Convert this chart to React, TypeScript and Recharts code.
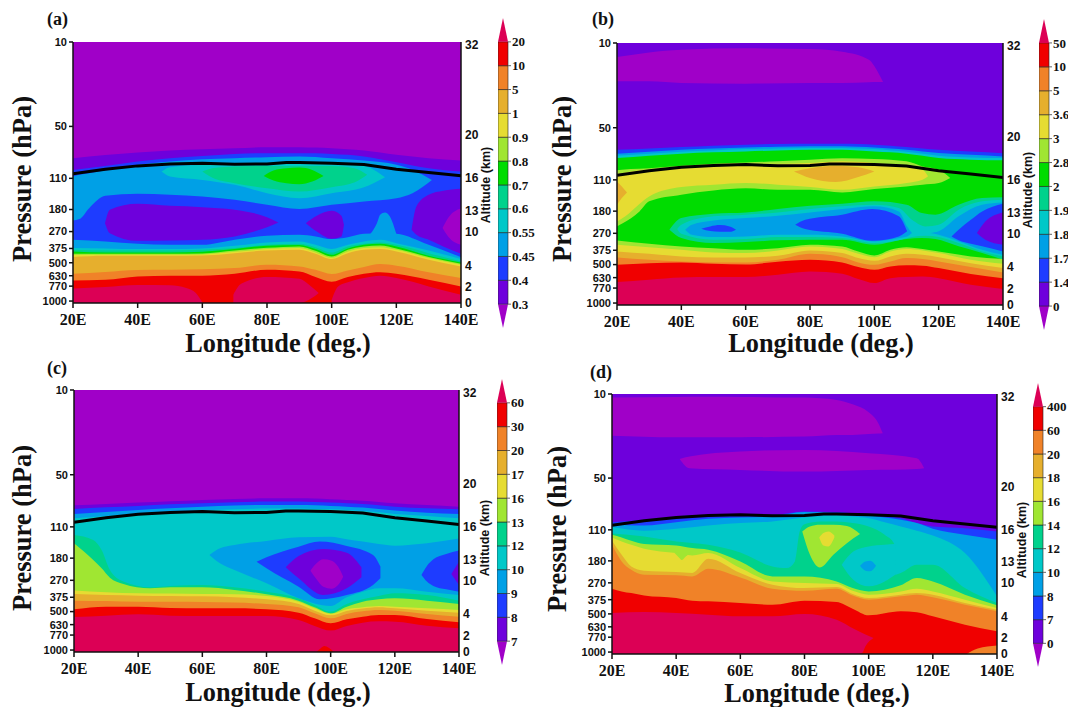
import { Area, Bar, BarChart, ComposedChart, Line, XAxis, YAxis } from 'recharts';

// vertical coordinate of the cross sections is log10(pressure in hPa)
const BOTTOM = 3.01;
const CRIMSON = '#dc0055';
const RED = '#f00000';
const ORANGE = '#f08228';
const GOLD = '#e6af2d';
const YELLOW = '#e6dc32';
const LIME = '#a0e632';
const GREEN = '#00dc00';
const TEAL = '#00d28c';
const CYAN = '#00c8c8';
const SKY = '#00a0e6';
const BLUE = '#1e3cff';
const VIOLET = '#6e00dc';
const PURPLE = '#a000c8';
const fullBar = [PURPLE, VIOLET, BLUE, SKY, CYAN, TEAL, GREEN, LIME, YELLOW, GOLD, ORANGE, RED, CRIMSON];
const shortBar = [PURPLE, VIOLET, BLUE, SKY, CYAN, TEAL, LIME, YELLOW, GOLD, ORANGE, RED, CRIMSON];

const pressureLabels = [10, 50, 110, 180, 270, 375, 500, 630, 770, 1000];
const pressureLevels = [1.0, 1.65, 2.05, 2.29, 2.46, 2.59, 2.7, 2.8, 2.88, 2.995];
const altitudeLabels = [32, 20, 16, 13, 10, 4, 2, 0];
const altitudeLevels = [1.023, 1.716, 2.047, 2.3, 2.46, 2.72, 2.885, 3.01];
const lonTicks = [20, 40, 60, 80, 100, 120, 140];

const tropoLons = [20, 30, 40, 50, 60, 70, 80, 86, 90, 100, 110, 120, 130, 140];
const tropopause = [2.015, 1.98, 1.954, 1.939, 1.933, 1.941, 1.939, 1.928, 1.928, 1.933, 1.944, 1.98, 2.005, 2.031];

const grid = [20, 30, 40, 50, 60, 70, 80, 90, 95, 100, 105, 110, 115, 120, 130, 140];

// panel (a)
const aViolet = [1.895, 1.87, 1.851, 1.836, 1.826, 1.818, 1.81, 1.81, 1.813, 1.818, 1.826, 1.836, 1.851, 1.869, 1.895, 1.913];
const aBlue = [1.985, 1.954, 1.92, 1.895, 1.877, 1.862, 1.856, 1.856, 1.856, 1.862, 1.869, 1.882, 1.903, 1.926, 1.972, 1.998];
const aSkyLons = [20, 22, 25, 30, 40, 50, 60, 70, 80, 90, 100, 110, 120, 125, 131];
const aSkyTop = [2.036, 2.023, 2.01, 1.99, 1.946, 1.92, 1.903, 1.895, 1.887, 1.882, 1.895, 1.913, 1.946, 1.985, 2.062];
const aSkyBot = [2.374, 2.364, 2.28, 2.185, 2.169, 2.177, 2.19, 2.215, 2.254, 2.287, 2.254, 2.228, 2.203, 2.164, 2.062];
const aCyanLons = [47.4, 50, 60, 70, 80, 90, 100, 110, 116.5];
const aCyanTop = [1.998, 1.964, 1.946, 1.939, 1.933, 1.933, 1.933, 1.954, 2.041];
const aCyanBot = [1.998, 2.036, 2.062, 2.1, 2.164, 2.203, 2.164, 2.118, 2.041];
const aTealLons = [60, 64, 70, 80, 90, 100, 107, 111];
const aTealTop = [1.998, 1.969, 1.959, 1.954, 1.954, 1.954, 1.972, 2.023];
const aTealBot = [1.998, 2.056, 2.087, 2.126, 2.151, 2.118, 2.082, 2.023];
const aGreenLons = [79, 82, 86, 90, 94, 97.5];
const aGreenTop = [2.031, 1.99, 1.972, 1.967, 1.985, 2.031];
const aGreenBot = [2.031, 2.067, 2.087, 2.095, 2.074, 2.031];
const aLow1Lons = [29.9, 31.4, 40, 50, 60, 70, 80, 83.5];
const aLow1Top = [2.395, 2.292, 2.246, 2.262, 2.272, 2.292, 2.349, 2.39];
const aLow1Bot = [2.395, 2.472, 2.531, 2.528, 2.523, 2.497, 2.426, 2.39];
const aLow2Lons = [92, 95.4, 100, 103, 103.8];
const aLow2Top = [2.395, 2.338, 2.3, 2.338, 2.408];
const aLow2Bot = [2.395, 2.459, 2.515, 2.498, 2.408];
const aLow3Lons = [124.7, 126.2, 130, 134.5, 140];
const aLow3Top = [2.446, 2.267, 2.177, 2.146, 2.131];
const aLow3Bot = [2.446, 2.485, 2.523, 2.574, 2.631];
const aMinLons = [134.3, 136, 140];
const aMinTop = [2.433, 2.356, 2.28];
const aMinBot = [2.433, 2.497, 2.562];
const aBumpLons = [112, 114, 115, 116.5, 118, 120];
const aBumpTop = [2.477, 2.395, 2.331, 2.313, 2.344, 2.477];
const aBumpBot = [2.52, 2.52, 2.52, 2.52, 2.52, 2.52];
const aSky2 = [2.523, 2.536, 2.554, 2.562, 2.562, 2.523, 2.492, 2.485, 2.497, 2.518, 2.503, 2.477, 2.472, 2.477, 2.562, 2.657];
const aCyan2 = [2.587, 2.59, 2.595, 2.595, 2.59, 2.569, 2.544, 2.536, 2.562, 2.595, 2.562, 2.536, 2.523, 2.549, 2.605, 2.672];
const aTeal2 = [2.6, 2.605, 2.605, 2.605, 2.6, 2.587, 2.562, 2.554, 2.58, 2.621, 2.574, 2.554, 2.544, 2.562, 2.626, 2.69];
const aGreen2 = [2.613, 2.621, 2.621, 2.621, 2.615, 2.595, 2.569, 2.564, 2.595, 2.639, 2.59, 2.562, 2.554, 2.574, 2.646, 2.698];
const aLime = [2.631, 2.631, 2.631, 2.631, 2.628, 2.605, 2.585, 2.574, 2.608, 2.651, 2.6, 2.574, 2.567, 2.59, 2.656, 2.708];
const aYellow = [2.641, 2.639, 2.639, 2.639, 2.636, 2.615, 2.595, 2.587, 2.621, 2.662, 2.613, 2.587, 2.58, 2.6, 2.664, 2.715];
const aGold = [2.656, 2.646, 2.646, 2.646, 2.644, 2.626, 2.605, 2.6, 2.631, 2.672, 2.626, 2.6, 2.595, 2.613, 2.677, 2.728];
const aOrange = [2.785, 2.772, 2.756, 2.754, 2.751, 2.741, 2.715, 2.728, 2.754, 2.787, 2.759, 2.733, 2.71, 2.723, 2.774, 2.818];
const aRed = [2.836, 2.831, 2.805, 2.8, 2.8, 2.785, 2.754, 2.767, 2.81, 2.846, 2.81, 2.785, 2.774, 2.785, 2.831, 2.882];
const aHigh1Lons = [20, 30, 40, 50, 55, 58, 60];
const aHigh1Top = [2.898, 2.887, 2.872, 2.874, 2.895, 2.933, 3.005];
const aHigh2Lons = [69.6, 72, 80, 90, 93, 96];
const aHigh2Top = [2.946, 2.862, 2.81, 2.823, 2.869, 2.933];
const aHigh2Bot = [3.01, 3.01, 3.01, 3.01, 2.985, 2.933];
const aHigh3Lons = [100, 102, 105, 110, 115, 120, 130, 140];
const aHigh3Top = [2.985, 2.882, 2.851, 2.818, 2.8, 2.818, 2.882, 2.946];

// panel (b)
const bMaxLons = [20, 30, 40, 60, 80, 90, 98.3, 101, 102.7];
const bMaxTop = [1.108, 1.072, 1.051, 1.041, 1.046, 1.067, 1.128, 1.218, 1.3];
const bMaxBot = [1.294, 1.294, 1.307, 1.312, 1.307, 1.307, 1.302, 1.3, 1.3];
const bBlue = [1.819, 1.809, 1.798, 1.788, 1.78, 1.775, 1.773, 1.773, 1.775, 1.78, 1.788, 1.798, 1.809, 1.819, 1.832, 1.845];
const bSky = [1.849, 1.834, 1.819, 1.809, 1.801, 1.796, 1.793, 1.793, 1.796, 1.801, 1.809, 1.819, 1.832, 1.844, 1.857, 1.87];
const bCyan = [1.865, 1.849, 1.834, 1.824, 1.814, 1.809, 1.806, 1.806, 1.809, 1.814, 1.824, 1.834, 1.849, 1.865, 1.878, 1.883];
const bGreen = [1.883, 1.865, 1.849, 1.839, 1.832, 1.824, 1.819, 1.819, 1.824, 1.832, 1.839, 1.849, 1.865, 1.883, 1.895, 1.9];
const bLimeLons = [20, 21.5, 27, 30, 40, 50, 60, 70, 80, 90, 100, 110, 115, 120, 123.6];
const bLimeTop = [1.977, 1.972, 1.965, 1.96, 1.942, 1.926, 1.916, 1.908, 1.896, 1.885, 1.89, 1.908, 1.947, 1.972, 2.036];
const bLimeBot = [2.407, 2.387, 2.292, 2.215, 2.164, 2.131, 2.115, 2.126, 2.126, 2.146, 2.12, 2.1, 2.087, 2.074, 2.036];
const bYellowLons = [20, 22.6, 26.7, 30, 40, 50, 60, 70, 80, 90, 100, 110, 115, 116.7];
const bYellowTop = [2.003, 1.993, 1.977, 1.972, 1.947, 1.934, 1.926, 1.926, 1.921, 1.908, 1.921, 1.947, 1.972, 2.023];
const bYellowBot = [2.369, 2.33, 2.241, 2.177, 2.105, 2.087, 2.074, 2.087, 2.105, 2.126, 2.1, 2.074, 2.049, 2.023];
const bGoldLons = [75, 80, 88, 95, 100];
const bGoldTop = [1.985, 1.96, 1.942, 1.954, 1.985];
const bGoldBot = [1.985, 2.036, 2.067, 2.028, 1.985];
const bGoldEdgeLons = [20, 21.5, 23.1];
const bGoldEdgeTop = [2.062, 2.1, 2.146];
const bGoldEdgeBot = [2.241, 2.189, 2.146];
const bTealLons = [36.3, 40, 50, 60, 70, 80, 90, 100, 110, 114.8, 119, 126.2, 133.5, 140];
const bTealTop = [2.432, 2.343, 2.31, 2.3, 2.274, 2.248, 2.233, 2.215, 2.241, 2.305, 2.317, 2.241, 2.189, 2.184];
const bTealBot = [2.432, 2.496, 2.535, 2.527, 2.514, 2.509, 2.509, 2.547, 2.504, 2.496, 2.504, 2.56, 2.611, 2.662];
const bCyanLons = [38.7, 40, 50, 60, 70, 80, 90, 100, 107.6, 111.7, 115.9, 120, 126.2, 133.5, 140];
const bCyanTop = [2.427, 2.394, 2.33, 2.317, 2.3, 2.274, 2.253, 2.241, 2.266, 2.356, 2.407, 2.394, 2.279, 2.215, 2.202];
const bCyanBot = [2.427, 2.463, 2.509, 2.504, 2.489, 2.489, 2.496, 2.535, 2.514, 2.489, 2.479, 2.489, 2.535, 2.599, 2.637];
const bSkyLons = [41.2, 43.3, 50, 60, 70, 80, 90, 100, 107.6, 110.2, 111.7];
const bSkyTop = [2.432, 2.394, 2.361, 2.343, 2.325, 2.3, 2.274, 2.253, 2.292, 2.407, 2.458];
const bSkyBot = [2.432, 2.471, 2.489, 2.484, 2.471, 2.471, 2.484, 2.522, 2.496, 2.484, 2.458];
const bSkyRightLons = [117.4, 120, 126.2, 133.5, 140];
const bSkyRightTop = [2.458, 2.445, 2.33, 2.241, 2.223];
const bSkyRightBot = [2.458, 2.471, 2.522, 2.586, 2.624];
const bBlueLons = [75.4, 78.5, 90, 99.3, 107.6, 110.2];
const bBlueTop = [2.394, 2.356, 2.317, 2.274, 2.33, 2.445];
const bBlueBot = [2.394, 2.427, 2.463, 2.517, 2.484, 2.445];
const bDotLons = [46.2, 49, 52, 55, 57];
const bDotTop = [2.425, 2.407, 2.397, 2.407, 2.432];
const bDotBot = [2.425, 2.443, 2.448, 2.448, 2.432];
const bBlueRightLons = [124, 126.2, 130, 133.5, 140];
const bBlueRightTop = [2.484, 2.432, 2.356, 2.292, 2.233];
const bBlueRightBot = [2.484, 2.514, 2.54, 2.56, 2.599];
const bMinLons = [131.9, 134.5, 140];
const bMinTop = [2.458, 2.369, 2.3];
const bMinBot = [2.458, 2.509, 2.547];
const bLime2 = [2.515, 2.54, 2.561, 2.574, 2.586, 2.574, 2.548, 2.561, 2.599, 2.63, 2.586, 2.566, 2.581, 2.599, 2.637, 2.658];
const bYellow2 = [2.548, 2.566, 2.586, 2.607, 2.612, 2.591, 2.561, 2.581, 2.617, 2.643, 2.599, 2.581, 2.591, 2.612, 2.663, 2.694];
const bGold2 = [2.599, 2.617, 2.637, 2.645, 2.645, 2.632, 2.591, 2.612, 2.65, 2.671, 2.637, 2.617, 2.625, 2.643, 2.689, 2.727];
const bOrange = [2.645, 2.663, 2.676, 2.683, 2.683, 2.663, 2.617, 2.643, 2.683, 2.701, 2.676, 2.65, 2.658, 2.676, 2.719, 2.76];
const bRed = [2.701, 2.689, 2.683, 2.694, 2.699, 2.678, 2.663, 2.683, 2.719, 2.74, 2.714, 2.706, 2.709, 2.727, 2.773, 2.804];
const bCrimson = [2.834, 2.816, 2.799, 2.796, 2.796, 2.778, 2.753, 2.77, 2.811, 2.842, 2.804, 2.796, 2.791, 2.804, 2.855, 2.888];

// panel (c)
const cViolet = [1.884, 1.874, 1.864, 1.854, 1.843, 1.836, 1.831, 1.831, 1.833, 1.838, 1.843, 1.849, 1.859, 1.869, 1.882, 1.895];
const cBlue = [1.913, 1.9, 1.89, 1.877, 1.869, 1.861, 1.856, 1.856, 1.859, 1.864, 1.869, 1.874, 1.884, 1.895, 1.907, 1.915];
const cSky = [1.951, 1.936, 1.92, 1.907, 1.895, 1.887, 1.882, 1.882, 1.884, 1.89, 1.895, 1.902, 1.913, 1.925, 1.941, 1.951];
const cCyan = [1.984, 1.966, 1.951, 1.936, 1.925, 1.915, 1.91, 1.91, 1.913, 1.915, 1.92, 1.928, 1.938, 1.951, 1.966, 1.984];
const cWideLons = [20, 26, 28.6, 31.2, 35.4, 43.7, 50, 60, 70, 80, 90, 95, 100, 105, 110, 115, 120, 130, 140];
const cTeal = [2.112, 2.15, 2.227, 2.381, 2.47, 2.514, 2.503, 2.496, 2.514, 2.547, 2.598, 2.649, 2.7, 2.642, 2.606, 2.58, 2.56, 2.573, 2.616];
const cLime = [2.176, 2.304, 2.368, 2.44, 2.488, 2.521, 2.514, 2.514, 2.534, 2.567, 2.616, 2.667, 2.713, 2.662, 2.624, 2.606, 2.598, 2.616, 2.642];
const cSkyLons = [62.2, 65.5, 70, 80, 90, 100, 105, 110, 115, 120, 130, 140];
const cSkyTop = [2.266, 2.214, 2.189, 2.158, 2.13, 2.125, 2.145, 2.163, 2.181, 2.194, 2.176, 2.14];
const cSkyBot = [2.266, 2.33, 2.381, 2.483, 2.598, 2.657, 2.59, 2.547, 2.521, 2.521, 2.547, 2.573];
const cBlueLons = [76.9, 80, 90, 96.6, 105, 113.2, 115.5];
const cBlueTop = [2.317, 2.283, 2.202, 2.163, 2.196, 2.266, 2.355];
const cBlueBot = [2.317, 2.368, 2.509, 2.606, 2.573, 2.496, 2.445];
const cVioletLons = [86, 90, 97.6, 105, 109.6];
const cVioletTop = [2.36, 2.273, 2.219, 2.248, 2.36];
const cVioletBot = [2.36, 2.445, 2.573, 2.521, 2.437];
const cMinLons = [93.7, 95.6, 97.7, 100.3, 102.3, 103.9];
const cMinTop = [2.386, 2.33, 2.299, 2.309, 2.355, 2.432];
const cMinBot = [2.386, 2.452, 2.509, 2.524, 2.496, 2.432];
const cBlueRightLons = [128.3, 130, 132, 136, 140];
const cBlueRightTop = [2.419, 2.35, 2.299, 2.258, 2.232];
const cBlueRightBot = [2.419, 2.47, 2.503, 2.529, 2.547];
const cVioletRightLons = [137.6, 140];
const cVioletRightTop = [2.411, 2.317];
const cVioletRightBot = [2.411, 2.496];
const cYellow = [2.539, 2.552, 2.56, 2.562, 2.565, 2.567, 2.58, 2.624, 2.675, 2.718, 2.682, 2.667, 2.657, 2.662, 2.675, 2.688];
const cGold = [2.565, 2.573, 2.578, 2.58, 2.583, 2.59, 2.606, 2.642, 2.693, 2.729, 2.695, 2.677, 2.667, 2.675, 2.693, 2.708];
const cOrange = [2.616, 2.619, 2.624, 2.624, 2.626, 2.631, 2.642, 2.667, 2.713, 2.752, 2.718, 2.698, 2.688, 2.693, 2.718, 2.739];
const cRed = [2.682, 2.662, 2.662, 2.672, 2.675, 2.675, 2.682, 2.708, 2.752, 2.79, 2.759, 2.739, 2.726, 2.726, 2.757, 2.782];
const cCrimson = [2.741, 2.731, 2.721, 2.731, 2.734, 2.734, 2.734, 2.764, 2.81, 2.846, 2.81, 2.785, 2.775, 2.777, 2.808, 2.828];
const cSpotLons = [95.5, 97, 98, 99.5, 101];
const cSpotTop = [3.01, 2.979, 2.964, 2.979, 3.01];

// panel (d)
const dMax1Lons = [20, 40, 50, 60, 80, 90, 95, 100, 103, 104.4];
const dMax1Top = [1.028, 1.023, 1.021, 1.023, 1.028, 1.046, 1.08, 1.142, 1.226, 1.304];
const dMax1Bot = [1.322, 1.334, 1.334, 1.334, 1.329, 1.316, 1.316, 1.309, 1.306, 1.304];
const dMax2Lons = [41.1, 44.2, 60, 80, 100, 115, 117.3];
const dMax2Top = [1.502, 1.484, 1.445, 1.432, 1.458, 1.497, 1.574];
const dMax2Bot = [1.502, 1.574, 1.587, 1.6, 1.587, 1.579, 1.574];
const dBlue = [1.991, 1.973, 1.947, 1.934, 1.934, 1.934, 1.908, 1.913, 1.921, 1.929, 1.939, 1.96, 1.998, 2.024, 2.037, 2.063];
const dSky = [2.006, 2.016, 1.991, 1.965, 1.955, 1.947, 1.913, 1.921, 1.929, 1.939, 1.955, 1.973, 1.998, 2.042, 2.088, 2.127];
const dCyan = [2.029, 2.057, 2.042, 2.016, 1.998, 1.985, 1.955, 1.939, 1.947, 1.96, 1.991, 2.024, 2.057, 2.094, 2.23, 2.564];
const dTealLons = [20, 30, 40, 50, 60, 70, 74.5, 77, 78.5, 80, 85, 90, 95, 100, 105, 108, 108.3, 110, 115, 120, 130, 140];
const dTeal = [2.078, 2.101, 2.14, 2.166, 2.225, 2.333, 2.346, 2.294, 2.063, 2.006, 1.985, 1.985, 1.998, 2.024, 2.088, 2.16, 2.397, 2.384, 2.32, 2.32, 2.5, 2.616];
const dPocketLons = [91.6, 95.2, 100, 105, 108.3];
const dPocketTop = [2.32, 2.217, 2.178, 2.166, 2.16];
const dPocketBot = [2.32, 2.436, 2.487, 2.449, 2.397];
const dPeakLons = [79.3, 81.7, 84.8, 89, 93.2, 97.3];
const dPeakTop = [2.063, 2.024, 2.011, 2.011, 2.021, 2.083];
const dPeakBot = [2.063, 2.243, 2.341, 2.243, 2.153, 2.083];
const dCoreLons = [84.6, 85.9, 87.4, 89.3];
const dCoreTop = [2.109, 2.075, 2.063, 2.094];
const dCoreBot = [2.109, 2.171, 2.178, 2.109];
const dDotLons = [97.3, 99, 100.5, 102.3];
const dDotTop = [2.328, 2.294, 2.289, 2.328];
const dDotBot = [2.328, 2.366, 2.371, 2.328];
const dLowLons = [20, 23, 26, 30, 40, 45, 50, 60, 70, 80, 90, 95, 100, 110, 115, 120, 130, 140];
const dLime = [2.088, 2.109, 2.135, 2.16, 2.171, 2.191, 2.204, 2.294, 2.41, 2.41, 2.449, 2.5, 2.526, 2.479, 2.423, 2.449, 2.551, 2.634];
const dYellow = [2.109, 2.14, 2.166, 2.196, 2.23, 2.248, 2.23, 2.346, 2.449, 2.461, 2.469, 2.521, 2.551, 2.526, 2.505, 2.526, 2.59, 2.654];
const dGold = [2.135, 2.243, 2.333, 2.366, 2.377, 2.384, 2.274, 2.384, 2.474, 2.5, 2.492, 2.546, 2.577, 2.551, 2.539, 2.551, 2.616, 2.667];
const dOrange = [2.166, 2.294, 2.359, 2.397, 2.402, 2.41, 2.351, 2.418, 2.505, 2.521, 2.505, 2.557, 2.59, 2.564, 2.551, 2.572, 2.629, 2.68];
const dRed = [2.505, 2.526, 2.539, 2.557, 2.577, 2.598, 2.603, 2.616, 2.629, 2.598, 2.608, 2.66, 2.711, 2.68, 2.688, 2.719, 2.783, 2.835];
const dNotchLons = [39.5, 41, 41.7, 43, 45];
const dNotchTop = [2.22, 2.225, 2.225, 2.225, 2.22];
const dNotchBot = [2.23, 2.268, 2.284, 2.256, 2.23];
const dHighLons = [20, 30, 40, 50, 60, 70, 80, 90, 95.5, 98, 99, 101.5];
const dHighTop = [2.693, 2.685, 2.693, 2.706, 2.719, 2.719, 2.701, 2.745, 2.817, 2.847, 2.86, 2.886];
const dHighBot = [3.01, 3.01, 3.01, 3.01, 3.01, 3.01, 3.01, 3.01, 3.01, 3.0, 2.95, 2.886];
const dCornerLons = [130.6, 134, 140];
const dCornerTop = [3.01, 2.968, 2.945];

// colour bar level labels, bottom to top
const aLevels = ['0.3', '0.4', '0.45', '0.55', '0.6', '0.7', '0.8', '0.9', '1', '5', '10', '20'];
const bLevels = ['0', '1.4', '1.7', '1.8', '1.9', '2', '2.8', '3', '3.6', '5', '10', '50'];
const cLevels = ['7', '8', '9', '10', '12', '13', '16', '17', '20', '30', '60'];
const dLevels = ['0', '7', '8', '10', '12', '14', '16', '18', '20', '60', '400'];

type Layer = { color: string; lons: number[]; top: number[]; bot?: number[] };
const L = (color: string, lons: number[], top: number[], bot?: number[]): Layer => ({ color, lons, top, bot });

const flat = [20, 140];
const sky = [1, 1];

const layersA: Layer[] = [
  L(PURPLE, flat, sky),
  L(VIOLET, grid, aViolet),
  L(BLUE, grid, aBlue),
  L(SKY, aSkyLons, aSkyTop, aSkyBot),
  L(CYAN, aCyanLons, aCyanTop, aCyanBot),
  L(TEAL, aTealLons, aTealTop, aTealBot),
  L(GREEN, aGreenLons, aGreenTop, aGreenBot),
  L(VIOLET, aLow1Lons, aLow1Top, aLow1Bot),
  L(VIOLET, aLow2Lons, aLow2Top, aLow2Bot),
  L(VIOLET, aLow3Lons, aLow3Top, aLow3Bot),
  L(PURPLE, aMinLons, aMinTop, aMinBot),
  L(SKY, aBumpLons, aBumpTop, aBumpBot),
  L(SKY, grid, aSky2),
  L(CYAN, grid, aCyan2),
  L(TEAL, grid, aTeal2),
  L(GREEN, grid, aGreen2),
  L(LIME, grid, aLime),
  L(YELLOW, grid, aYellow),
  L(GOLD, grid, aGold),
  L(ORANGE, grid, aOrange),
  L(RED, grid, aRed),
  L(CRIMSON, aHigh1Lons, aHigh1Top),
  L(CRIMSON, aHigh2Lons, aHigh2Top, aHigh2Bot),
  L(CRIMSON, aHigh3Lons, aHigh3Top),
];

const layersB: Layer[] = [
  L(VIOLET, flat, sky),
  L(PURPLE, bMaxLons, bMaxTop, bMaxBot),
  L(BLUE, grid, bBlue),
  L(SKY, grid, bSky),
  L(CYAN, grid, bCyan),
  L(GREEN, grid, bGreen),
  L(LIME, bLimeLons, bLimeTop, bLimeBot),
  L(YELLOW, bYellowLons, bYellowTop, bYellowBot),
  L(GOLD, bGoldLons, bGoldTop, bGoldBot),
  L(GOLD, bGoldEdgeLons, bGoldEdgeTop, bGoldEdgeBot),
  L(TEAL, bTealLons, bTealTop, bTealBot),
  L(CYAN, bCyanLons, bCyanTop, bCyanBot),
  L(SKY, bSkyLons, bSkyTop, bSkyBot),
  L(SKY, bSkyRightLons, bSkyRightTop, bSkyRightBot),
  L(BLUE, bBlueLons, bBlueTop, bBlueBot),
  L(BLUE, bDotLons, bDotTop, bDotBot),
  L(BLUE, bBlueRightLons, bBlueRightTop, bBlueRightBot),
  L(VIOLET, bMinLons, bMinTop, bMinBot),
  L(LIME, grid, bLime2),
  L(YELLOW, grid, bYellow2),
  L(GOLD, grid, bGold2),
  L(ORANGE, grid, bOrange),
  L(RED, grid, bRed),
  L(CRIMSON, grid, bCrimson),
];

const layersC: Layer[] = [
  L(PURPLE, flat, sky),
  L(VIOLET, grid, cViolet),
  L(BLUE, grid, cBlue),
  L(SKY, grid, cSky),
  L(CYAN, grid, cCyan),
  L(TEAL, cWideLons, cTeal),
  L(LIME, cWideLons, cLime),
  L(SKY, cSkyLons, cSkyTop, cSkyBot),
  L(BLUE, cBlueLons, cBlueTop, cBlueBot),
  L(VIOLET, cVioletLons, cVioletTop, cVioletBot),
  L(PURPLE, cMinLons, cMinTop, cMinBot),
  L(BLUE, cBlueRightLons, cBlueRightTop, cBlueRightBot),
  L(VIOLET, cVioletRightLons, cVioletRightTop, cVioletRightBot),
  L(YELLOW, grid, cYellow),
  L(GOLD, grid, cGold),
  L(ORANGE, grid, cOrange),
  L(RED, grid, cRed),
  L(CRIMSON, grid, cCrimson),
  L(RED, cSpotLons, cSpotTop),
];

const layersD: Layer[] = [
  L(VIOLET, flat, sky),
  L(PURPLE, dMax1Lons, dMax1Top, dMax1Bot),
  L(PURPLE, dMax2Lons, dMax2Top, dMax2Bot),
  L(BLUE, grid, dBlue),
  L(SKY, grid, dSky),
  L(CYAN, grid, dCyan),
  L(TEAL, dTealLons, dTeal),
  L(CYAN, dPocketLons, dPocketTop, dPocketBot),
  L(LIME, dPeakLons, dPeakTop, dPeakBot),
  L(YELLOW, dCoreLons, dCoreTop, dCoreBot),
  L(SKY, dDotLons, dDotTop, dDotBot),
  L(LIME, dLowLons, dLime),
  L(YELLOW, dLowLons, dYellow),
  L(LIME, dNotchLons, dNotchTop, dNotchBot),
  L(GOLD, dLowLons, dGold),
  L(ORANGE, dLowLons, dOrange),
  L(RED, dLowLons, dRed),
  L(CRIMSON, dHighLons, dHighTop, dHighBot),
  L(ORANGE, dCornerLons, dCornerTop),
];

const tropoRows = tropoLons.map((lon, i) => ({ lon, p: tropopause[i] }));
const tickSans = { fontFamily: 'Liberation Sans', fontWeight: 700, fill: '#111' };
const tickSerif = { fontFamily: 'Liberation Serif', fontWeight: 700, fontSize: 16, fill: '#111' };

function Section({ x, y, w, h, layers }: { x: number; y: number; w: number; h: number; layers: Layer[] }) {
  return (
    <div style={{ position: 'absolute', left: x - 55, top: y - 10 }}>
      <ComposedChart width={w + 105} height={h + 50} margin={{ top: 10, right: 5, bottom: 10, left: 10 }}>
        <XAxis
          type="number"
          dataKey="lon"
          domain={[20, 140]}
          ticks={lonTicks}
          interval={0}
          tickFormatter={(v: number) => `${v}E`}
          tick={tickSerif}
          tickSize={5}
          tickMargin={6}
          height={30}
          stroke="#111"
          strokeWidth={1.5}
          allowDataOverflow
        />
        <XAxis xAxisId="top" orientation="top" type="number" domain={[20, 140]} tick={false} tickLine={false} height={0} stroke="#111" strokeWidth={1.5} />
        <YAxis
          type="number"
          reversed
          domain={[1, BOTTOM]}
          ticks={pressureLevels}
          interval={0}
          tickFormatter={(v: number) => String(pressureLabels[pressureLevels.indexOf(v)])}
          tick={{ ...tickSans, fontSize: 11 }}
          tickSize={4}
          width={45}
          stroke="#111"
          strokeWidth={1.5}
          allowDataOverflow
        />
        <YAxis
          yAxisId="right"
          orientation="right"
          type="number"
          reversed
          domain={[1, BOTTOM]}
          ticks={altitudeLevels}
          interval={0}
          tickFormatter={(v: number) => String(altitudeLabels[altitudeLevels.indexOf(v)])}
          tick={{ ...tickSans, fontSize: 12 }}
          tickLine={false}
          tickSize={0}
          tickMargin={4}
          width={45}
          stroke="#111"
          strokeWidth={1.5}
          allowDataOverflow
        />
        {layers.map((layer, i) => (
          <Area
            key={i}
            data={layer.lons.map((lon, j) => ({ lon, range: [layer.bot ? layer.bot[j] : BOTTOM, layer.top[j]] }))}
            dataKey="range"
            type="monotone"
            fill={layer.color}
            fillOpacity={1}
            stroke="none"
            dot={false}
            activeDot={false}
            isAnimationActive={false}
          />
        ))}
        <Line data={tropoRows} dataKey="p" type="linear" stroke="#000" strokeWidth={3} dot={false} activeDot={false} isAnimationActive={false} />
      </ComposedChart>
    </div>
  );
}

const triangle = (dir: 'up' | 'down') => (p: any) => {
  const { x, y, width, height, fill } = p;
  const d =
    dir === 'up'
      ? `M${x},${y + height}L${x + width / 2},${y}L${x + width},${y + height}Z`
      : `M${x},${y}L${x + width / 2},${y + height}L${x + width},${y}Z`;
  return <path d={d} fill={fill} />;
};

function ColorBar({ x, y, h, levels, colors }: { x: number; y: number; h: number; levels: string[]; colors: string[] }) {
  // one unit per colour step, the first and last step are drawn as triangles
  const row: Record<string, number | string> = { name: 'bar' };
  colors.forEach((_, i) => (row[`s${i}`] = 1));
  const units = colors.length;
  const tickValues = levels.map((_, i) => i + 1);
  return (
    <div style={{ position: 'absolute', left: x, top: y }}>
      <BarChart width={60} height={h} data={[row]} margin={{ top: 0, right: 0, bottom: 0, left: 0 }} barCategoryGap={0}>
        <XAxis dataKey="name" hide />
        <YAxis
          orientation="right"
          type="number"
          domain={[0, units]}
          ticks={tickValues}
          interval={0}
          width={50}
          axisLine={false}
          tickSize={3}
          tickMargin={1}
          tickFormatter={(v: number) => levels[v - 1]}
          tick={{ fontFamily: 'Liberation Serif', fontWeight: 700, fontSize: 13, fill: '#111' }}
        />
        {colors.map((c, i) => (
          <Bar
            key={c}
            dataKey={`s${i}`}
            stackId="bar"
            fill={c}
            stroke={i === 0 || i === units - 1 ? 'none' : '#222'}
            strokeWidth={0.6}
            shape={i === 0 ? triangle('down') : i === units - 1 ? triangle('up') : undefined}
            isAnimationActive={false}
          />
        ))}
      </BarChart>
    </div>
  );
}

const serifBold = { fontFamily: 'Liberation Serif', fontWeight: 700, fill: '#111' };
const sansBold = { fontFamily: 'Liberation Sans', fontWeight: 700, fill: '#111' };

function Titles() {
  const tag = [['(a)', 47, 25], ['(b)', 592, 25], ['(c)', 47, 374], ['(d)', 590, 378]] as const;
  const lonTitle = [[278, 352], [821, 352], [278, 701], [817, 702]] as const;
  const presTitle = [[31, 179], [571, 179], [31, 528], [566, 529]] as const;
  const altTitle = [[490, 185], [1032, 190], [489, 538], [1026, 540]] as const;
  return (
    <svg width={1068} height={707} style={{ position: 'absolute', left: 0, top: 0, pointerEvents: 'none' }}>
      {tag.map(([t, x, y]) => (
        <text key={t} x={x} y={y} fontSize={18} {...serifBold}>{t}</text>
      ))}
      {lonTitle.map(([x, y]) => (
        <text key={x} x={x} y={y} fontSize={26.3} textAnchor="middle" {...serifBold}>Longitude (deg.)</text>
      ))}
      {presTitle.map(([x, y]) => (
        <text key={x} x={x} y={y} fontSize={26.5} textAnchor="middle" transform={`rotate(-90 ${x} ${y})`} {...serifBold}>Pressure (hPa)</text>
      ))}
      {altTitle.map(([x, y]) => (
        <text key={x} x={x} y={y} fontSize={12.5} textAnchor="middle" transform={`rotate(-90 ${x} ${y})`} {...sansBold}>Altitude (km)</text>
      ))}
    </svg>
  );
}

export default function App() {
  return (
    <div style={{ position: 'absolute', left: 0, top: 0, width: 1068, height: 707, background: '#fff', overflow: 'hidden' }}>
      <Section x={73} y={42} w={388} h={261} layers={layersA} />
      <Section x={617} y={43} w={386} h={262} layers={layersB} />
      <Section x={74} y={390} w={385} h={262} layers={layersC} />
      <Section x={612} y={394} w={385} h={260} layers={layersD} />
      <ColorBar x={498} y={18} h={310} levels={aLevels} colors={fullBar} />
      <ColorBar x={1039} y={19} h={311} levels={bLevels} colors={fullBar} />
      <ColorBar x={497} y={379} h={286} levels={cLevels} colors={shortBar} />
      <ColorBar x={1033} y={383} h={284} levels={dLevels} colors={shortBar} />
      <Titles />
    </div>
  );
}
